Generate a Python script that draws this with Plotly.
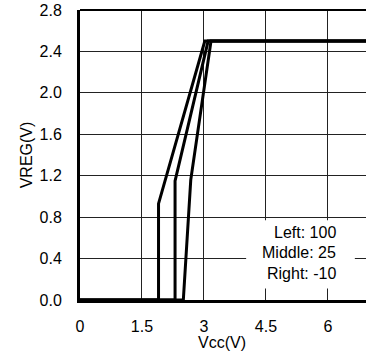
import plotly.graph_objects as go

# Data
left_x = [0, 1.9, 1.9, 3.02, 6.92]
left_y = [0, 0, 0.93, 2.5, 2.5]
mid_x = [0, 2.3, 2.3, 3.1, 6.92]
mid_y = [0, 0, 1.15, 2.5, 2.5]
right_x = [0, 2.5, 2.68, 3.17, 6.92]
right_y = [0, 0, 1.16, 2.5, 2.5]

x_ticks = [0, 1.5, 3, 4.5, 6]
x_labels = ["0", "1.5", "3", "4.5", "6"]
y_ticks = [0, 0.4, 0.8, 1.2, 1.6, 2.0, 2.4, 2.8]
y_labels = ["0.0", "0.4", "0.8", "1.2", "1.6", "2.0", "2.4", "2.8"]
legend_lines = ["Left: 100", "Middle: 25", "Right: -10"]
legend_y = [0.656, 0.458, 0.255]

FONT = "Liberation Sans, Arial, sans-serif"
FS = 16

fig = go.Figure()
for xs, ys in [(left_x, left_y), (mid_x, mid_y), (right_x, right_y)]:
    fig.add_trace(go.Scatter(x=xs, y=ys, mode="lines",
                             line=dict(color="black", width=3),
                             cliponaxis=False, showlegend=False, hoverinfo="skip"))

fig.add_shape(type="rect", xref="x", yref="y", x0=4.02, x1=6.65, y0=0.11, y1=0.77,
              fillcolor="white", line=dict(width=0), layer="above")
fig.add_shape(type="line", xref="paper", yref="paper", x0=0, x1=1, y0=1, y1=1,
              line=dict(color="black", width=2), layer="above")

for txt, yy in zip(legend_lines, legend_y):
    fig.add_annotation(x=6.24, y=yy, xref="x", yref="y", text=txt, showarrow=False,
                       xanchor="right", yanchor="middle",
                       font=dict(family=FONT, size=FS, color="black"))

# x-axis title
fig.add_annotation(x=0.496, y=-0.148, xref="paper", yref="paper", text="Vcc(V)",
                   showarrow=False, xanchor="center", yanchor="middle",
                   font=dict(family=FONT, size=FS, color="black"))

fig.update_layout(
    width=366, height=361,
    margin=dict(l=80, r=0, t=10, b=61),
    paper_bgcolor="white", plot_bgcolor="white",
    font=dict(family=FONT, size=FS, color="black"),
    xaxis=dict(range=[0, 6.92], tickvals=x_ticks, ticktext=x_labels,
               showgrid=True, gridcolor="#222", gridwidth=1, zeroline=False,
               showline=True, linecolor="black", linewidth=3,
               ticks="outside", ticklen=10, tickcolor="rgba(0,0,0,0)",
               automargin=False),
    yaxis=dict(range=[0, 2.8], tickvals=y_ticks, ticktext=y_labels,
               showgrid=True, gridcolor="#222", gridwidth=1, zeroline=False,
               showline=True, linecolor="black", linewidth=3,
               ticks="outside", ticklen=12, tickcolor="rgba(0,0,0,0)",
               automargin=False,
               title=dict(text="VREG(V)", standoff=3, font=dict(size=FS))),
)

fig.write_html("out.html", config={"displayModeBar": False},
               post_script="document.body.style.margin='0';document.body.style.overflow='hidden';")
